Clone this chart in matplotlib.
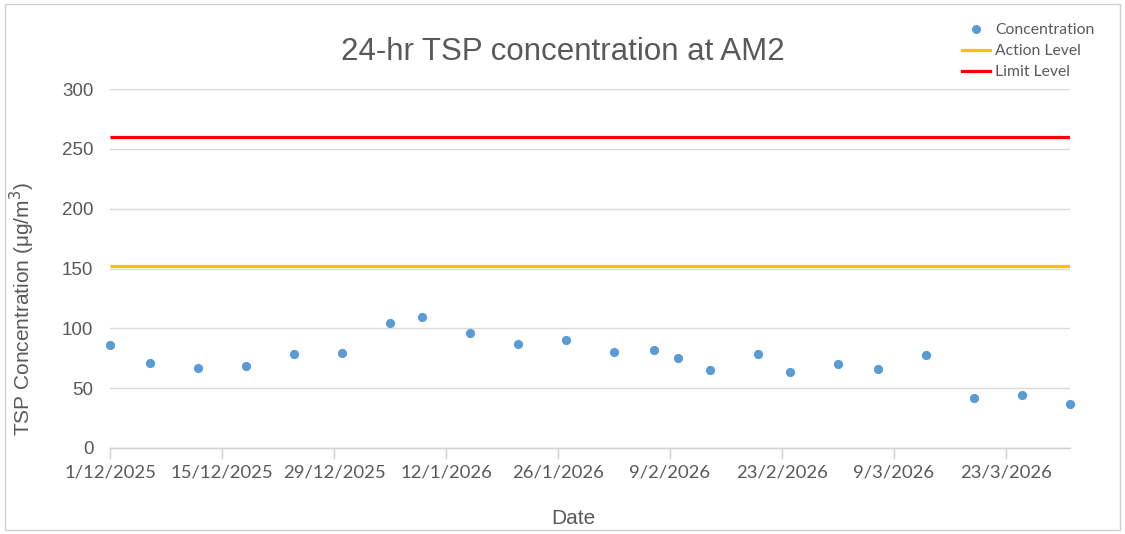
import matplotlib
matplotlib.use("Agg")
import matplotlib.pyplot as plt
from matplotlib.lines import Line2D
from matplotlib.patches import Rectangle
import datetime as dt

dates = ["2025-12-01", "2025-12-06", "2025-12-12", "2025-12-18", "2025-12-24", "2025-12-30",
         "2026-01-05", "2026-01-09", "2026-01-15", "2026-01-21", "2026-01-27",
         "2026-02-02", "2026-02-07", "2026-02-10", "2026-02-14", "2026-02-20", "2026-02-24",
         "2026-03-02", "2026-03-07", "2026-03-13", "2026-03-19", "2026-03-25", "2026-03-31"]
concentration = [86, 71, 66.5, 68.5, 78.5, 79.5,
                 104.5, 109.5, 96.5, 87, 90,
                 80.5, 82, 75.5, 65, 78.5, 63.5,
                 70, 66, 77.5, 42, 44.5, 37]
action_level = 152
limit_level = 260
tick_labels = ["1/12/2025", "15/12/2025", "29/12/2025", "12/1/2026", "26/1/2026",
               "9/2/2026", "23/2/2026", "9/3/2026", "23/3/2026"]

x = [dt.datetime.strptime(d, "%Y-%m-%d") for d in dates]
tick_pos = [dt.datetime.strptime(t, "%d/%m/%Y") for t in tick_labels]
x_start = dt.datetime(2025, 12, 1)
x_end = dt.datetime(2026, 3, 31)

W, H = 1125, 534
fig = plt.figure(figsize=(W / 100, H / 100), dpi=100)
fig.patch.set_facecolor("white")
fig.add_artist(Rectangle((5 / W, 4 / H), 1115 / W, 526 / H, transform=fig.transFigure,
                         fill=False, edgecolor="#d0d0d0", linewidth=1.0))

ax = fig.add_axes([110 / W, (H - 448) / H, 960 / W, 359 / H])

ax.plot([x_start, x_end], [limit_level, limit_level], color="#FF0000", lw=2.3, zorder=3,
        solid_capstyle="butt")
ax.plot([x_start, x_end], [action_level, action_level], color="#FFC000", lw=2.3, zorder=3,
        solid_capstyle="butt")
ax.scatter(x, concentration, s=44, color="#5B9BD5", zorder=4, linewidths=0, clip_on=False)

ax.set_xlim(x_start, x_end)
ax.set_ylim(0, 300)
ax.set_yticks(range(0, 301, 50))
ax.yaxis.grid(True, color="#d9d9d9", lw=1.0)
ax.set_axisbelow(True)

for s in ["top", "right", "left"]:
    ax.spines[s].set_visible(False)
ax.spines["bottom"].set_color("#d0d0d0")
ax.spines["bottom"].set_linewidth(1.0)

ax.set_xticks(tick_pos)
ax.set_xticklabels(tick_labels, fontfamily="Lato", fontsize=13.3, color="#595959")
ax.tick_params(axis="x", length=8, width=1, color="#d0d0d0", direction="out", pad=4)
ax.tick_params(axis="y", length=0, pad=12, labelsize=13.5, labelcolor="#595959")
for lab in ax.get_yticklabels():
    lab.set_fontfamily("Liberation Sans")

fig.text(563 / W, 1 - 52 / H, "24-hr TSP concentration at AM2", ha="center", va="center",
         fontsize=22.5, color="#595959", fontfamily="Liberation Sans")
fig.text(22 / W, 1 - 309 / H, "TSP Concentration (μg/m$^3$)", ha="center", va="center",
         rotation=90, fontsize=15, color="#595959", fontfamily="Liberation Sans")
fig.text(573 / W, 1 - 518 / H, "Date", ha="center", va="center",
         fontsize=15, color="#595959", fontfamily="Liberation Sans")

handles = [
    Line2D([], [], marker="o", ls="none", color="#5B9BD5", markersize=6.5, markeredgewidth=0),
    Line2D([], [], color="#FFC000", lw=2.3),
    Line2D([], [], color="#FF0000", lw=2.3),
]
leg = fig.legend(handles, ["Concentration", "Action Level", "Limit Level"],
                 loc="upper left", bbox_to_anchor=(962 / W, 1 - 23 / H), frameon=False,
                 prop={"family": "Lato", "size": 11.3}, handlelength=1.8, handletextpad=0.33,
                 labelspacing=0.45, borderaxespad=0, borderpad=0)
for t in leg.get_texts():
    t.set_color("#595959")

fig.savefig("out.png", dpi=100, facecolor="white")
